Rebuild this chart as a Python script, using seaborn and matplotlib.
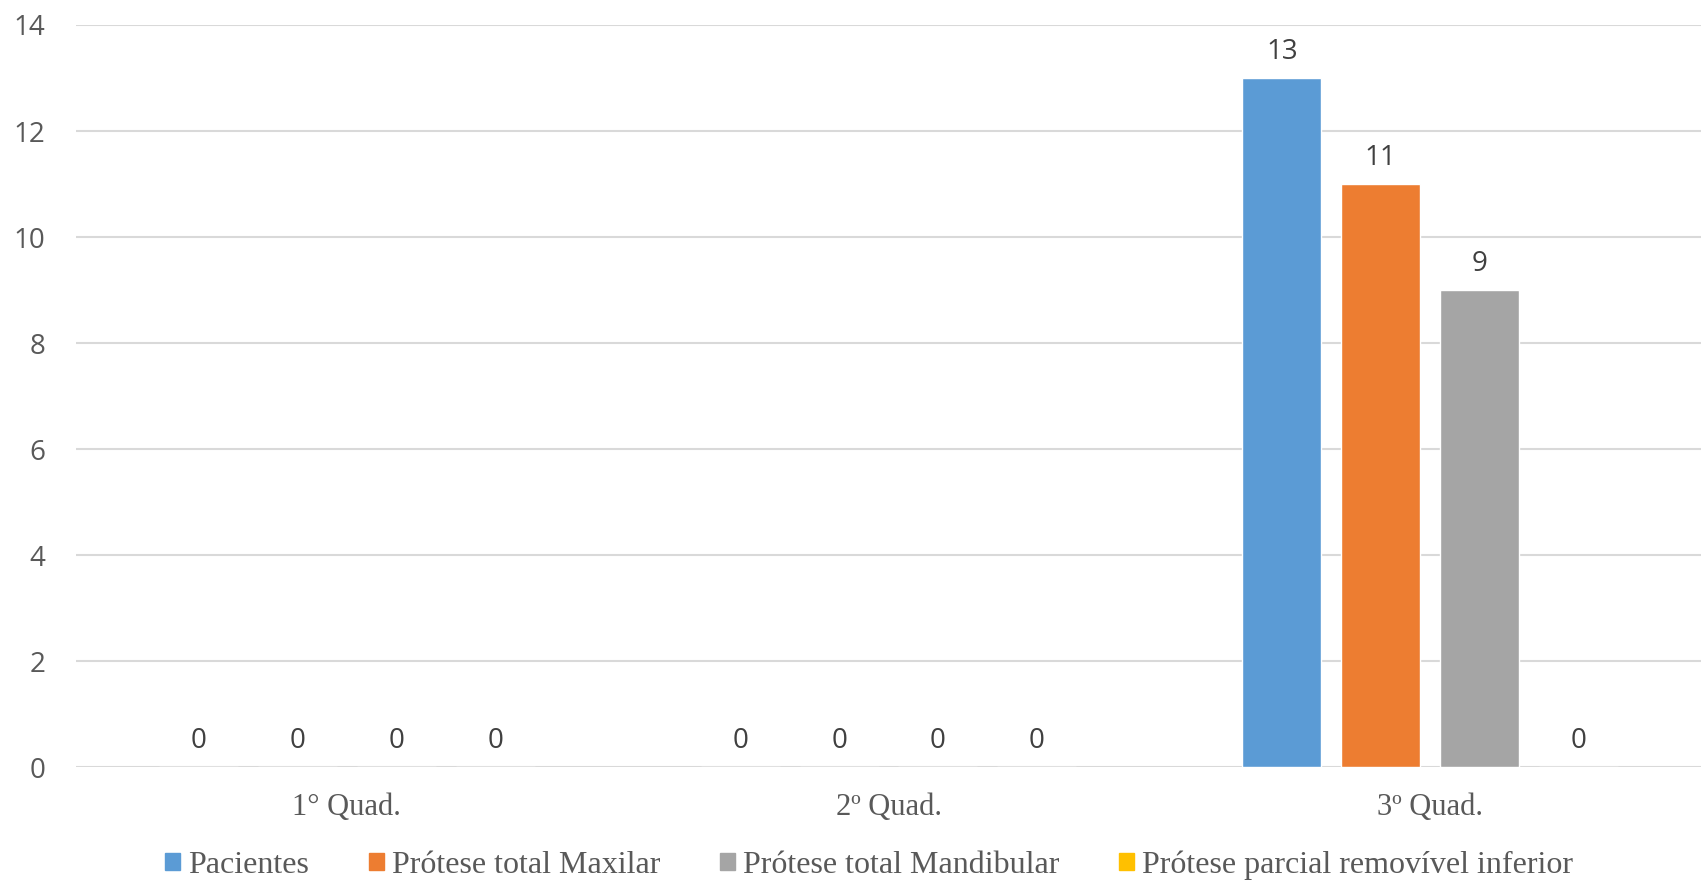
import numpy as np
import pandas as pd
import matplotlib
matplotlib.use('Agg')
import matplotlib.pyplot as plt
import seaborn as sns

sns.set_style("white")
plt.rcParams['font.family'] = ['Open Sans', 'DejaVu Sans']

quadrantes = ['1° Quad.', '2º Quad.', '3º Quad.']
series = ['Pacientes', 'Prótese total Maxilar', 'Prótese total Mandibular',
          'Prótese parcial removível inferior']
pacientes = [0, 0, 13]
maxilar = [0, 0, 11]
mandibular = [0, 0, 9]
parcial = [0, 0, 0]
cores = ['#5B9BD5', '#ED7D31', '#A5A5A5', '#FFC000']

df = pd.DataFrame({
    'quad': quadrantes * 4,
    'serie': np.repeat(series, len(quadrantes)),
    'valor': pacientes + maxilar + mandibular + parcial,
})

fig = plt.figure(figsize=(17.01, 8.80), dpi=100)
ax = fig.add_axes([0.0447, 0.128, 0.9553, 0.8436])

sns.barplot(data=df, x='quad', y='valor', hue='serie', hue_order=series,
            order=quadrantes, palette=cores, saturation=1, errorbar=None,
            width=0.73, gap=0.2, ax=ax, legend=False)

for cont in ax.containers:
    ax.bar_label(cont, fmt='%d', padding=9, fontsize=20, color='#404040')

ax.set_ylim(0, 14)
ax.set_yticks(range(0, 15, 2))
ax.yaxis.grid(True, color='#D9D9D9', linewidth=1.5)
ax.set_axisbelow(True)
for s in ax.spines.values():
    s.set_visible(False)
ax.tick_params(axis='y', length=0, pad=22, labelsize=20, labelcolor='#595959')
ax.tick_params(axis='x', length=0, pad=18.5, labelsize=22, labelcolor='#595959')
for lbl in ax.get_xticklabels():
    lbl.set_family('Liberation Serif')
ax.set_xlabel('')
ax.set_ylabel('')

handles = [plt.Rectangle((0, 0), 1, 1, color=c) for c in cores]
fig.legend(handles, series, loc='center', bbox_to_anchor=(0.511, 0.017), ncol=4,
           frameon=False, handlelength=0.47, handleheight=0.47, handletextpad=0.25,
           columnspacing=1.87,
           prop={'family': 'Liberation Serif', 'size': 23}, labelcolor='#595959')

fig.savefig('out.png', dpi=100)
